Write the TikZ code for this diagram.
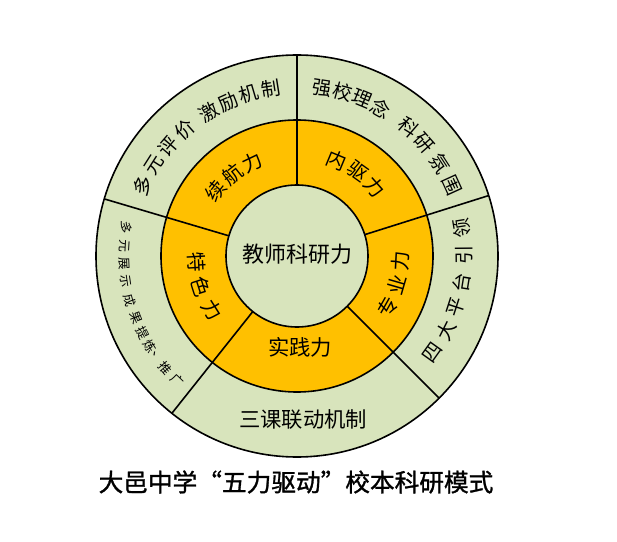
\documentclass[tikz,border=0pt]{standalone}
\usepackage{fontspec}
\setmainfont{Noto Sans CJK SC}
\newfontfamily\titlefont[FakeBold=1.2]{Noto Sans CJK SC}
\usetikzlibrary{calc}
\definecolor{ringgreen}{RGB}{216,228,188}
\definecolor{ringorange}{RGB}{255,192,0}

\begin{document}
\begin{tikzpicture}[x=0.75pt,y=0.75pt,line width=1.2pt,
    outerchar/.style={font=\fontsize{14.5}{14.5}\selectfont,inner sep=-2pt},
    smallchar/.style={font=\fontsize{9.5}{9.5}\selectfont,inner sep=-1.5pt},
    ringchar/.style={font=\fontsize{15}{15}\selectfont,inner sep=-2pt},
    flatlabel/.style={font=\fontsize{16}{16}\selectfont,inner sep=0pt}]
    \useasboundingbox (-297,-286) rectangle (320,256);
    \fill[white] (-297,-286) rectangle (320,256);
    \draw[fill=ringgreen] (0,0) circle (201);
    \draw[fill=ringorange] (0,0) circle (136);
    \draw[fill=ringgreen] (0,0) circle (71);
    \foreach \a in {90,17.5,-45,231.5,163.5}
        \draw (\a:71) -- (\a:201);
    \foreach \ch/\a [count=\i] in {多/155.5,元/147.5,评/139.5,价/131.5,激/121.5,励/114,机/106.5,制/99}
        \node[outerchar,rotate=\a-90] (eval\i) at (\a:169) {\ch};
    \foreach \ch/\a [count=\i] in {强/81.5,校/74.5,理/67.5,念/60.5,科/49,研/41.5,氛/33,围/24.5}
        \node[outerchar,rotate=\a-90] (idea\i) at (\a:170) {\ch};
    \foreach \ch/\a [count=\i] in {四/-35.5,大/-26.7,平/-17.9,台/-9.1,引/0.5,领/9.5}
        \node[outerchar,rotate=\a+90] (plat\i) at (\a:167) {\ch};
    \foreach \ch/\a [count=\i] in {多/170.6,元/176.6,展/182.4,示/188.2,成/195,果/201,提/206.6,炼/211.6,、/215.8,推/220.4,广/226.2}
        \node[smallchar,rotate=\a+90] (show\i) at (\a:173) {\ch};
    \foreach \ch/\a [count=\i] in {续/141.5,航/128.5,力/115.5}
        \node[ringchar,rotate=\a-90] (keep\i) at (\a:104) {\ch};
    \foreach \ch/\a [count=\i] in {内/67.5,驱/54.5,力/41.5}
        \node[ringchar,rotate=\a-90] (drive\i) at (\a:104) {\ch};
    \foreach \ch/\a [count=\i] in {专/-29.5,业/-16.2,力/-3}
        \node[ringchar,rotate=\a+90] (prof\i) at (\a:104) {\ch};
    \foreach \ch/\a [count=\i] in {特/183.2,色/197.7,力/212.4}
        \node[ringchar,rotate=\a+90] (feat\i) at (\a:101) {\ch};
    \node[flatlabel] (practice) at (3,-91) {实践力};
    \node[flatlabel] (lessons) at (6,-163) {三课联动机制};
    \node[font=\fontsize{16.5}{16.5}\selectfont,inner sep=0pt] (core) at (0,2) {教师科研力};
    \node[font=\fontsize{18.5}{18.5}\selectfont\titlefont,inner sep=0pt] (title) at (-1,-226) {大邑中学“五力驱动”校本科研模式};
\end{tikzpicture}
\end{document}
